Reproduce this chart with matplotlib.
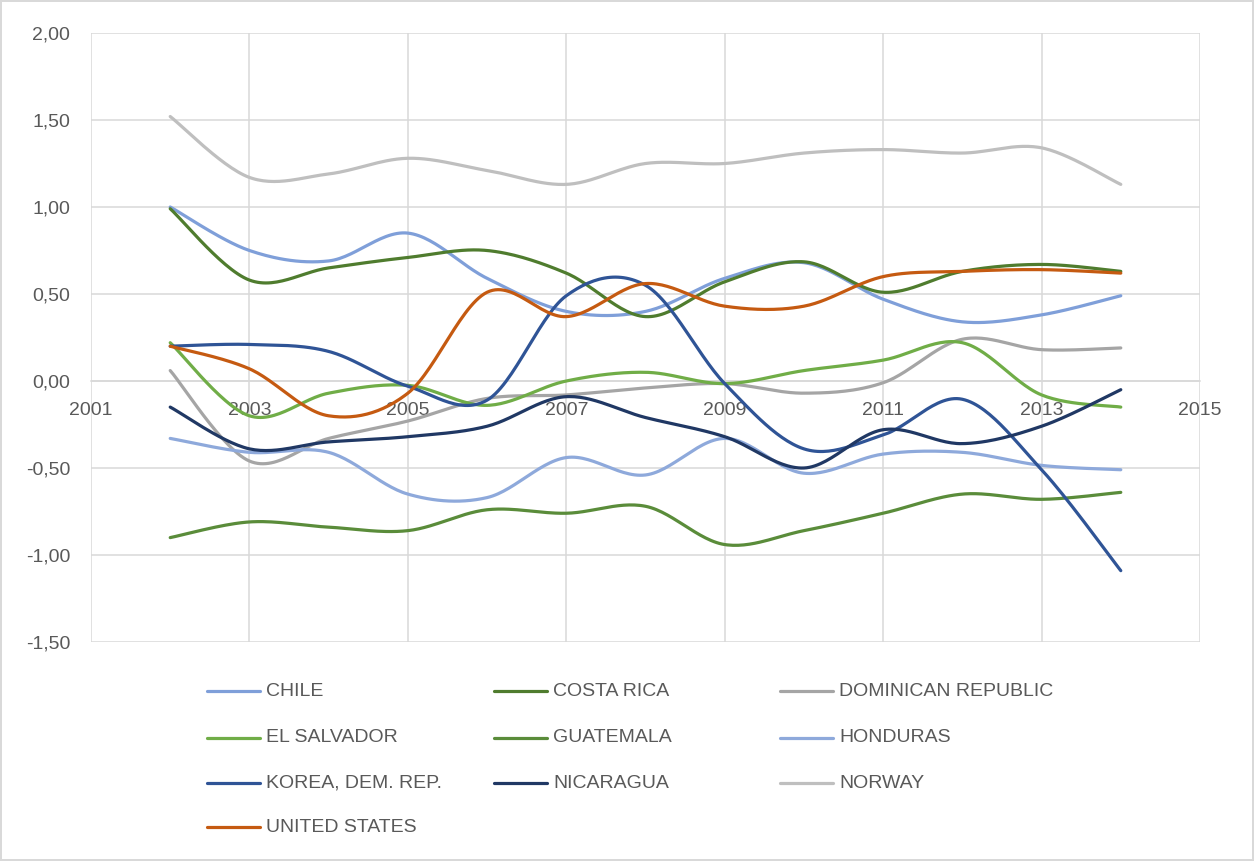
import numpy as np
import matplotlib
matplotlib.use('Agg')
import matplotlib.pyplot as plt
from matplotlib.lines import Line2D
from matplotlib.ticker import FuncFormatter

# Data
years = [2002, 2003, 2004, 2005, 2006, 2007, 2008, 2009, 2010, 2011, 2012, 2013, 2014]

chile = [1.00, 0.75, 0.69, 0.85, 0.59, 0.40, 0.40, 0.59, 0.68, 0.47, 0.34, 0.38, 0.49]
costa_rica = [0.99, 0.58, 0.65, 0.71, 0.75, 0.62, 0.37, 0.57, 0.685, 0.51, 0.63, 0.67, 0.63]
dominican = [0.06, -0.46, -0.33, -0.23, -0.10, -0.08, -0.04, -0.015, -0.07, -0.01, 0.24, 0.18, 0.19]
el_salvador = [0.22, -0.20, -0.07, -0.025, -0.14, 0.00, 0.05, -0.015, 0.06, 0.12, 0.22, -0.08, -0.15]
guatemala = [-0.90, -0.81, -0.84, -0.86, -0.74, -0.76, -0.72, -0.94, -0.86, -0.76, -0.65, -0.68, -0.64]
honduras = [-0.33, -0.41, -0.41, -0.65, -0.67, -0.44, -0.54, -0.33, -0.53, -0.42, -0.41, -0.485, -0.51]
korea = [0.20, 0.21, 0.17, -0.03, -0.11, 0.49, 0.55, -0.015, -0.39, -0.31, -0.105, -0.51, -1.09]
nicaragua = [-0.15, -0.39, -0.35, -0.32, -0.26, -0.09, -0.21, -0.32, -0.50, -0.28, -0.36, -0.26, -0.05]
norway = [1.52, 1.17, 1.19, 1.28, 1.21, 1.13, 1.25, 1.25, 1.31, 1.33, 1.31, 1.34, 1.13]
united_states = [0.20, 0.07, -0.20, -0.07, 0.51, 0.37, 0.56, 0.43, 0.43, 0.60, 0.63, 0.64, 0.62]

labels = ["CHILE", "COSTA RICA", "DOMINICAN REPUBLIC", "EL SALVADOR", "GUATEMALA",
          "HONDURAS", "KOREA, DEM. REP.", "NICARAGUA", "NORWAY", "UNITED STATES"]
series = [chile, costa_rica, dominican, el_salvador, guatemala,
          honduras, korea, nicaragua, norway, united_states]
colors = ["#7F9FD9", "#4F7C2E", "#A5A5A5", "#70AD47", "#5A8C3A",
          "#8EA9DB", "#2F5496", "#203864", "#BFBFBF", "#C55A11"]


def smooth(x, y, n=30):
    # Excel-like smoothed line: cubic Bezier through points, Catmull-Rom style handles
    x = np.asarray(x, float)
    y = np.asarray(y, float)
    px = np.concatenate([[x[0]], x, [x[-1]]])
    py = np.concatenate([[y[0]], y, [y[-1]]])
    t = np.linspace(0, 1, n)
    xs, ys = [], []
    for i in range(1, len(px) - 2):
        p0 = np.array([px[i], py[i]])
        p3 = np.array([px[i + 1], py[i + 1]])
        c1 = p0 + (p3 - np.array([px[i - 1], py[i - 1]])) / 6
        c2 = p3 - (np.array([px[i + 2], py[i + 2]]) - p0) / 6
        pts = (np.outer((1 - t) ** 3, p0) + np.outer(3 * (1 - t) ** 2 * t, c1)
               + np.outer(3 * (1 - t) * t ** 2, c2) + np.outer(t ** 3, p3))
        xs.append(pts[:, 0])
        ys.append(pts[:, 1])
    return np.concatenate(xs), np.concatenate(ys)


plt.rcParams['font.family'] = ['Liberation Sans', 'DejaVu Sans']
text_color = "#595959"
grid_color = "#D9D9D9"

fig = plt.figure(figsize=(12.54, 8.61), dpi=100)
fig.patch.set_edgecolor(grid_color)
fig.patch.set_linewidth(1.5)
ax = fig.add_axes([91 / 1254, 1 - 642 / 861, (1200 - 91) / 1254, (642 - 33) / 861])

for vals, color in zip(series, colors):
    sx, sy = smooth(years, vals)
    ax.plot(sx, sy, color=color, lw=2.3, solid_capstyle='round', zorder=3)

ax.set_xlim(2001, 2015)
ax.set_ylim(-1.5, 2.0)
ax.set_xticks(range(2001, 2016, 2))
ax.set_yticks(np.arange(-1.5, 2.01, 0.5))
ax.yaxis.set_major_formatter(FuncFormatter(lambda v, p: f"{v:.2f}".replace(".", ",")))
ax.grid(True, color=grid_color, lw=1.1, zorder=0)
ax.set_axisbelow(True)

for side in ['top', 'right', 'left']:
    ax.spines[side].set_visible(False)
ax.spines['bottom'].set_position(('data', 0))
ax.spines['bottom'].set_color(grid_color)
ax.spines['bottom'].set_linewidth(1.1)
ax.tick_params(axis='both', length=0, labelsize=14, colors=text_color)
ax.tick_params(axis='x', pad=15)
ax.tick_params(axis='y', pad=15)

# Legend, three equal columns under the plot
col_x = [207, 494, 780]
row_y = [691, 738, 783, 827]
for i, (lab, color) in enumerate(zip(labels, colors)):
    cx = col_x[i % 3]
    ry = row_y[i // 3]
    fy = 1 - ry / 861
    fig.add_artist(Line2D([cx / 1254, (cx + 53) / 1254], [fy, fy], color=color,
                          lw=2.3, solid_capstyle='round', transform=fig.transFigure))
    fig.text((cx + 59) / 1254, fy, lab, fontsize=14, color=text_color, va='center', ha='left')

fig.savefig("out.png", dpi=100, edgecolor=fig.get_edgecolor())
